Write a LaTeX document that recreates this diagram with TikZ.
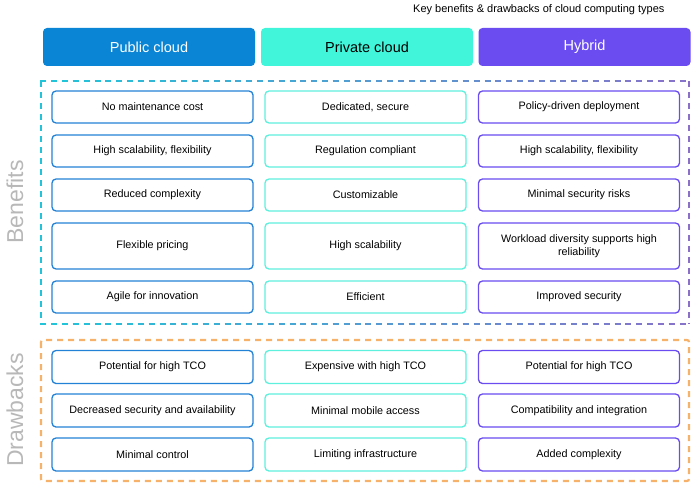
\documentclass[tikz,border=0pt]{standalone}
\usepackage{fontspec}
\setmainfont{Liberation Sans}
\definecolor{cpub}{HTML}{0A84D4}
\definecolor{cpriv}{HTML}{40F5DA}
\definecolor{chyb}{HTML}{6A4CF0}
\definecolor{bpub}{HTML}{2282D6}
\definecolor{bpriv}{HTML}{5EF0DC}
\definecolor{bhyb}{HTML}{6A4CF0}
\definecolor{dcyan}{HTML}{22C4DA}
\definecolor{dpurp}{HTML}{8A70C8}
\definecolor{dorange}{HTML}{F6B26B}
\definecolor{sidegray}{HTML}{B8B8B8}
\begin{document}
\begin{tikzpicture}[x=1pt,y=-1pt,
  hdr/.style={rounded corners=4pt,minimum height=38pt,minimum width=212pt,text=white,font=\fontsize{14.5}{17}\selectfont,inner sep=0pt},
  cell/.style={draw,line width=1.3pt,rounded corners=4pt,minimum width=201pt,fill=white,font=\fontsize{10.8}{13}\selectfont,align=center,inner sep=0pt},
  side/.style={rotate=90,text=sidegray,font=\fontsize{23}{26}\selectfont}]
\useasboundingbox (0,0) rectangle (692,484);
\node[anchor=east,font=\fontsize{11}{13}\selectfont] (title) at (668,10) {Key benefits \& drawbacks of cloud computing types};
\node[hdr,fill=cpub] (h1) at (149,47) {Public cloud};
\node[hdr,fill=cpriv,text=black] (h2) at (367,47) {Private cloud};
\node[hdr,fill=chyb] (h3) at (584.5,47) {Hybrid};
\foreach \i in {0,...,19}{
  \pgfmathsetmacro\t{\i*5}
  \colorlet{cc}{dpurp!\t!dcyan}
  \draw[cc,line width=2.2pt,dash pattern=on 6pt off 5pt] ({40+\i*32.5},81) -- ({40+(\i+1)*32.5},81);
  \draw[cc,line width=2.2pt,dash pattern=on 6pt off 5pt] ({40+\i*32.5},324) -- ({40+(\i+1)*32.5},324);
}
\draw[dcyan,line width=2.2pt,dash pattern=on 6pt off 5pt] (41,81) -- (41,324);
\draw[dpurp,line width=2.2pt,dash pattern=on 6pt off 5pt] (689,81) -- (689,324);
\draw[dorange,line width=2.2pt,dash pattern=on 6pt off 5pt,rounded corners=2pt] (41,340) rectangle (689,481);
\node[side] (sb) at (15,202) {Benefits};
\node[side] (sd) at (15,410) {Drawbacks};
\def\rows{1/107/32,2/151/32,3/195/32,4/246/46,5/297/32,6/367/33,7/410.5/33,8/454.5/33}
\foreach \r/\y/\h in \rows{
  \ifcase\r\or
    \def\a{No maintenance cost}\def\b{Dedicated, secure}\def\c{Policy-driven deployment}\or
    \def\a{High scalability, flexibility}\def\b{Regulation compliant}\def\c{High scalability, flexibility}\or
    \def\a{Reduced complexity}\def\b{Customizable}\def\c{Minimal security risks}\or
    \def\a{Flexible pricing}\def\b{High scalability}\def\c{Workload diversity supports high\\reliability}\or
    \def\a{Agile for innovation}\def\b{Efficient}\def\c{Improved security}\or
    \def\a{Potential for high TCO}\def\b{Expensive with high TCO}\def\c{Potential for high TCO}\or
    \def\a{Decreased security and availability}\def\b{Minimal mobile access}\def\c{Compatibility and integration}\or
    \def\a{Minimal control}\def\b{Limiting infrastructure}\def\c{Added complexity}\fi
  \node[cell,draw=bpub,minimum height=\h pt] (a\r) at (152.5,\y) {\a};
  \node[cell,draw=bpriv,minimum height=\h pt] (b\r) at (365.5,\y) {\b};
  \node[cell,draw=bhyb,minimum height=\h pt] (c\r) at (579,\y) {\c};
}
\end{tikzpicture}
\end{document}
